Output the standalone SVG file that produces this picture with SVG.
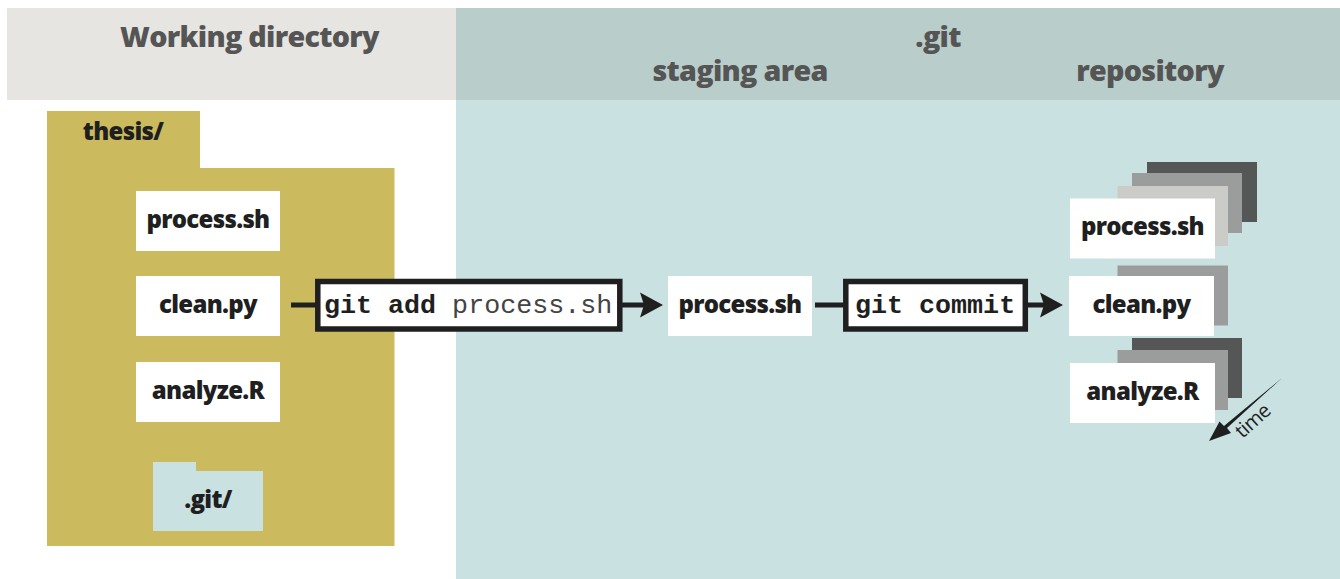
<svg xmlns="http://www.w3.org/2000/svg" width="1340" height="579" viewBox="0 0 1340 579">
<style>
.l{font-family:"Open Sans","Liberation Sans",sans-serif;font-weight:800;text-anchor:middle;fill:#1f1f1f;font-size:24px;letter-spacing:-.7px}
.h{font-family:"Open Sans","Liberation Sans",sans-serif;font-weight:800;text-anchor:middle;fill:#555;font-size:28.700px;letter-spacing:-.7px}
.m{font-family:"Liberation Mono",monospace;font-size:26.7px;fill:#444}
.b{font-weight:700;fill:#1f1f1f}
.w{fill:#fff}.c1{fill:#cbcbc7}.c2{fill:#9b9d9d}.c3{fill:#555757}
.line{stroke:#1f1f1f;stroke-width:5;fill:none}
.box{fill:#fff;stroke:#1f1f1f;stroke-width:5.5}
</style>
<defs>
<path id="head" d="M0 0L-23 -12.5L-19 0L-23 12.5Z" fill="#1f1f1f"/>
</defs>
<g id="backgrounds">
<rect x="7" y="8" width="449" height="92" fill="#e6e5e1"/>
<rect x="456" y="8" width="884" height="92" fill="#b9cecb"/>
<rect x="456" y="100" width="884" height="479" fill="#c9e1e1"/>
<text class="h" x="249.500" y="46.500">Working directory</text>
<text class="h" x="938" y="46.500">.git</text>
<text class="h" x="740" y="80.500">staging area</text>
<text class="h" x="1150" y="80.500">repository</text>
</g>
<g id="thesis">
<path d="M47 111H200V168H394.500V546H47Z" fill="#cbbb5e"/>
<text class="l" x="123" y="140">thesis/</text>
</g>
<g id="wd-process"><rect class="w" x="136" y="191" width="144" height="60"/><text class="l" x="208" y="228">process.sh</text></g>
<g id="wd-clean"><rect class="w" x="136" y="276" width="144" height="60"/><text class="l" x="208" y="313">clean.py</text></g>
<g id="wd-analyze"><rect class="w" x="136" y="362" width="144" height="60"/><text class="l" x="208" y="399">analyze.R</text></g>
<g id="git-folder">
<path d="M153 462H196V471H263V531H153Z" fill="#c9e1e1"/>
<text class="l" x="208" y="508">.git/</text>
</g>
<g id="staging-process"><rect class="w" x="668" y="276" width="144" height="60"/><text class="l" x="740" y="313">process.sh</text></g>
<g id="repo-process">
<rect class="c3" x="1147" y="162" width="110" height="60"/>
<rect class="c2" x="1132" y="173" width="110" height="60"/>
<rect class="c1" x="1117.500" y="186" width="110.500" height="60"/>
<rect class="w" x="1070" y="198.500" width="145" height="60"/>
<text class="l" x="1142.500" y="235">process.sh</text>
</g>
<g id="repo-clean">
<rect class="c2" x="1117.500" y="265.500" width="110.500" height="60"/>
<rect class="w" x="1069" y="276" width="145" height="60"/>
<text class="l" x="1141.500" y="313">clean.py</text>
</g>
<g id="repo-analyze">
<rect class="c3" x="1132" y="338" width="110" height="60"/>
<rect class="c2" x="1117.500" y="350" width="110.500" height="60"/>
<rect class="w" x="1070" y="363" width="145" height="60"/>
<text class="l" x="1142.500" y="400">analyze.R</text>
</g>
<g id="connectors">
<path class="line" d="M291 305H316M622 305H648M815 305H844M1027 305H1048"/>
<use href="#head" x="663" y="305"/>
<use href="#head" x="1063" y="305"/>
<path d="M1282 378L1227 428L1231 433L1209 441L1219.500 421.500L1224 426Z" fill="#1f1f1f"/>
</g>
<g id="git-add">
<rect class="box" x="317.800" y="281.500" width="302" height="47.500"/>
<text class="m" x="324" y="313"><tspan class="b">git add</tspan> process.sh</text>
</g>
<g id="git-commit">
<rect class="box" x="845.800" y="281.500" width="179.500" height="47.500"/>
<text class="m b" x="855" y="313">git commit</text>
</g>
<text id="time-label" transform="translate(1242.500 439) rotate(-42)" font-family="Open Sans,Liberation Sans,sans-serif" font-size="20" letter-spacing="-.6" fill="#1f1f1f">time</text>
</svg>
